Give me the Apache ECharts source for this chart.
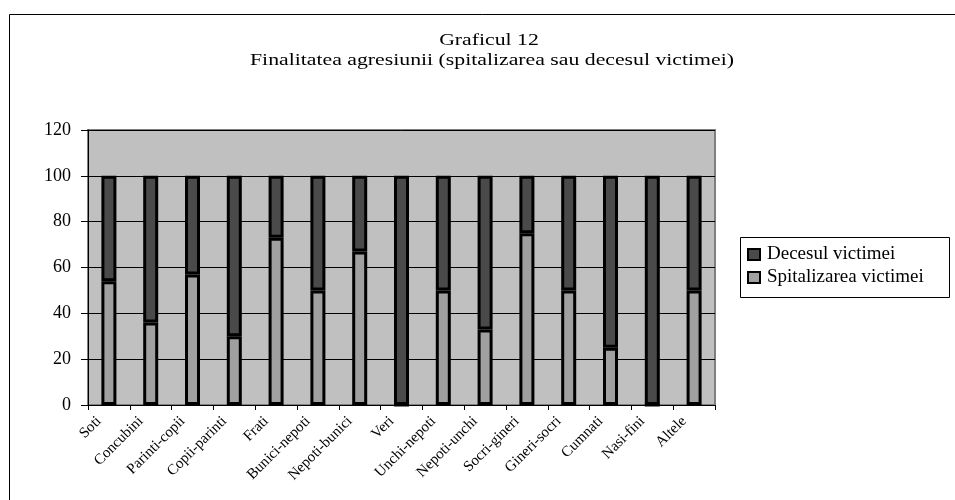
<!DOCTYPE html>
<html>
<head>
<meta charset="utf-8">
<script src="https://cdn.jsdelivr.net/npm/echarts@6/dist/echarts.min.js"></script>
<style>html,body{margin:0;padding:0;background:#fff;}#c{width:955px;height:500px;}</style>
</head>
<body>
<div id="c"></div>
<script>
const categories = ['Soti','Concubini','Parinti-copii','Copii-parinti','Frati','Bunici-nepoti','Nepoti-bunici','Veri','Unchi-nepoti','Nepoti-unchi','Socri-gineri','Gineri-socri','Cumnati','Nasi-fini','Altele'];
const spitalizarea = [54, 36, 57, 30, 73, 50, 67, 0, 50, 33, 75, 50, 25, 0, 50];
const decesul = [46, 64, 43, 70, 27, 50, 33, 100, 50, 67, 25, 50, 75, 100, 50];
const yTicks = [0, 20, 40, 60, 80, 100, 120];
const titleText = 'Graficul 12';
const subtitleText = 'Finalitatea agresiunii (spitalizarea sau decesul victimei)';
const seriesNames = ['Decesul victimei', 'Spitalizarea victimei'];

const FONT = '"Liberation Serif", "Times New Roman", serif';
const chart = echarts.init(document.getElementById('c'), null, {renderer: 'canvas'});
chart.setOption({
  backgroundColor: '#ffffff',
  animation: false,
  graphic: [
    {type: 'rect', z: 0, shape: {x: 9.5, y: 14.5, width: 1000, height: 600}, style: {fill: 'none', stroke: '#000', lineWidth: 1}},
    {type: 'text', z: 5, x: 489, y: 41, scaleX: 1.28, style: {text: titleText, font: '17px ' + FONT, fill: '#000', textAlign: 'center', textVerticalAlign: 'middle'}},
    {type: 'text', z: 5, x: 492, y: 61, scaleX: 1.28, style: {text: subtitleText, font: '17px ' + FONT, fill: '#000', textAlign: 'center', textVerticalAlign: 'middle'}},
    {type: 'rect', z: 0, shape: {x: 740.5, y: 237.5, width: 209, height: 60}, style: {fill: '#fff', stroke: '#000', lineWidth: 1}}
  ],
  legend: {
    data: seriesNames,
    orient: 'vertical',
    left: 747,
    top: 245,
    itemWidth: 12,
    itemHeight: 11,
    itemGap: 4,
    padding: 0,
    icon: 'rect',
    textStyle: {fontFamily: FONT, fontSize: 19, color: '#000', padding: [0, 0, 0, 2]}
  },
  grid: {
    left: 88, right: 240, top: 130, bottom: 95,
    show: true, backgroundColor: '#c0c0c0', borderColor: '#808080', borderWidth: 2
  },
  xAxis: {
    type: 'category',
    data: categories,
    boundaryGap: true,
    axisLine: {lineStyle: {color: '#000', width: 1}},
    axisTick: {show: true, length: 5, lineStyle: {color: '#000'}, alignWithLabel: false},
    axisLabel: {interval: 0, rotate: 45, margin: 4, padding: [0, 14, 0, 0], fontFamily: FONT, fontSize: 15, color: '#000'}
  },
  yAxis: {
    type: 'value',
    min: yTicks[0],
    max: yTicks[yTicks.length - 1],
    interval: yTicks[1] - yTicks[0],
    axisLine: {show: true, lineStyle: {color: '#000', width: 1}},
    axisTick: {show: true, length: 7, lineStyle: {color: '#000'}},
    axisLabel: {margin: 17, fontFamily: FONT, fontSize: 18, color: '#000'},
    splitLine: {show: true, lineStyle: {color: '#000', width: 1}}
  },
  series: [
    {
      name: seriesNames[1], type: 'bar', stack: 'total', data: spitalizarea, barWidth: 15,
      itemStyle: {color: '#a0a0a0', borderColor: '#000', borderWidth: 3}
    },
    {
      name: seriesNames[0], type: 'bar', stack: 'total', data: decesul, barWidth: 15,
      itemStyle: {color: '#4a4a4a', borderColor: '#000', borderWidth: 3}
    }
  ]
});
</script>
</body>
</html>
